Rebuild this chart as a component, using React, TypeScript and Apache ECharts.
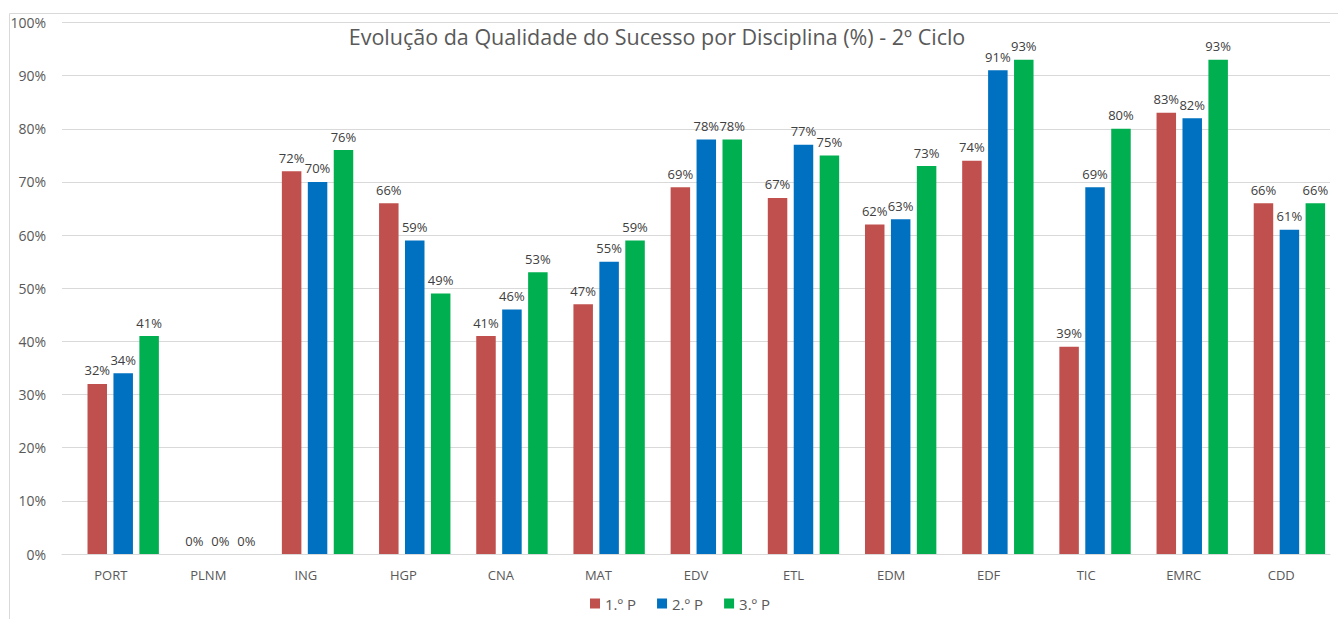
import React, { useEffect, useRef } from "react";
import * as echarts from "echarts";

const categories = ["PORT", "PLNM", "ING", "HGP", "CNA", "MAT", "EDV", "ETL", "EDM", "EDF", "TIC", "EMRC", "CDD"];
const p1 = [32, 0, 72, 66, 41, 47, 69, 67, 62, 74, 39, 83, 66];
const p2 = [34, 0, 70, 59, 46, 55, 78, 77, 63, 91, 69, 82, 61];
const p3 = [41, 0, 76, 49, 53, 59, 78, 75, 73, 93, 80, 93, 66];
const seriesNames = ["1.º P", "2.º P", "3.º P"];
const colors = ["#C0504D", "#0070C0", "#00B050"];
const titleText = "Evolução da Qualidade do Sucesso por Disciplina (%) - 2º Ciclo";

const FONT = "'Open Sans', 'Noto Sans', sans-serif";

export default function App() {
  const ref = useRef<HTMLDivElement>(null);
  useEffect(() => {
    if (!ref.current) return;
    const chart = echarts.init(ref.current, null, { renderer: "svg" });
    const data = [p1, p2, p3];
    chart.setOption({
      animation: false,
      backgroundColor: "#ffffff",
      textStyle: { fontFamily: FONT },
      title: {
        text: titleText,
        left: 652,
        textAlign: "center",
        top: 20,
        textStyle: { fontFamily: FONT, fontSize: 21.5, fontWeight: "normal", color: "#595959" },
      },
      legend: {
        bottom: 3,
        left: 585,
        itemWidth: 10,
        itemHeight: 10,
        itemGap: 21,
        icon: "rect",
        textStyle: { fontFamily: FONT, fontSize: 15, color: "#595959" },
        data: seriesNames,
      },
      graphic: [
        {
          type: "rect",
          shape: { x: 9.5, y: 13.5, width: 1340, height: 620 },
          style: { fill: "none", stroke: "#d9d9d9", lineWidth: 1 },
          silent: true,
        },
      ],
      grid: [
        { left: 74.6, right: -4.7, top: 22.5, bottom: 65, containLabel: false },
        { left: 62, right: 8, top: 22.5, bottom: 65, containLabel: false },
      ],
      xAxis: [
        {
          type: "category",
          gridIndex: 0,
          data: categories,
          axisTick: { show: false },
          axisLine: { show: false },
          axisLabel: { show: false },
        },
        {
          type: "category",
          gridIndex: 1,
          data: categories,
          axisTick: { show: false },
          axisLabel: { color: "#595959", fontSize: 13, margin: 14, fontFamily: FONT },
          axisLine: { lineStyle: { color: "#d9d9d9", width: 1 } },
        },
      ],
      yAxis: [
        {
          type: "value",
          gridIndex: 0,
          min: 0,
          max: 100,
          interval: 10,
          axisLine: { show: false },
          axisTick: { show: false },
          splitLine: { show: false },
          axisLabel: { show: false },
        },
        {
          type: "value",
          gridIndex: 1,
          min: 0,
          max: 100,
          interval: 10,
          axisLine: { show: false },
          axisTick: { show: false },
          splitLine: { lineStyle: { color: "#d9d9d9", width: 1 } },
          axisLabel: { formatter: "{value}%", color: "#595959", fontSize: 14, margin: 16, fontFamily: FONT },
        },
      ],
      series: seriesNames.map((name, i) => ({
        name,
        type: "bar",
        xAxisIndex: 0,
        yAxisIndex: 0,
        data: data[i],
        barWidth: 19.5,
        barGap: "33%",
        itemStyle: { color: colors[i] },
        z: 3,
        label: {
          show: true,
          position: "top",
          distance: 7,
          formatter: "{c}%",
          color: "#404040",
          fontSize: 13,
          fontFamily: FONT,
        },
      })),
    });
    return () => chart.dispose();
  }, []);
  return <div ref={ref} style={{ position: "absolute", left: 0, top: 0, width: 1338, height: 619 }} />;
}
